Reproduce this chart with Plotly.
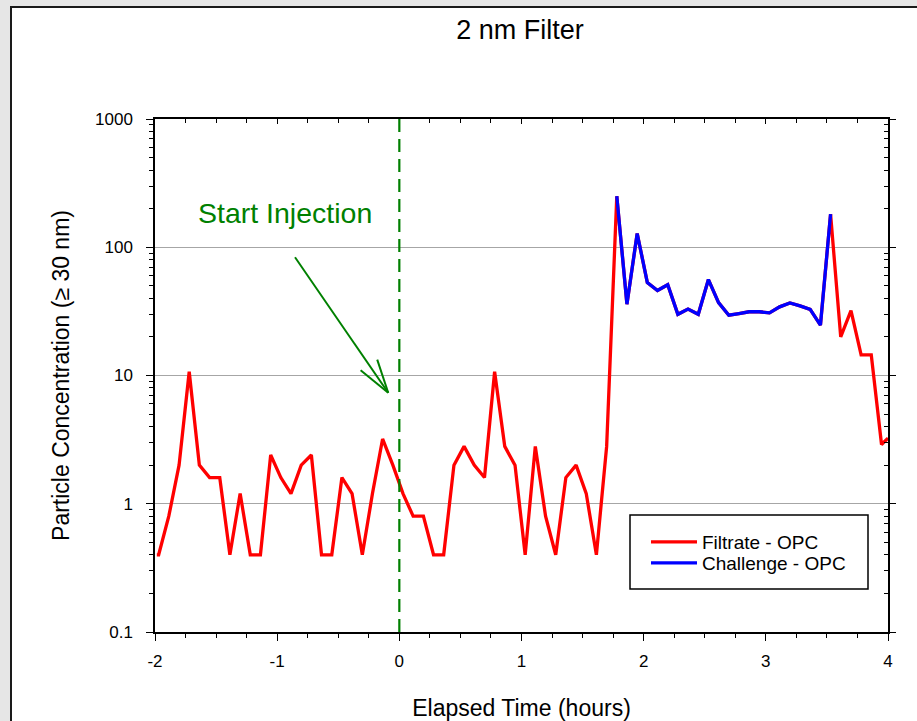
import numpy as np
import plotly.graph_objects as go

# ---- data ----
red_pre_t = [-1.985, -1.970, -1.887, -1.803, -1.720, -1.637, -1.553, -1.470, -1.387, -1.303,
             -1.220, -1.137, -1.053, -0.970, -0.887, -0.803, -0.720, -0.637, -0.553, -0.470,
             -0.387, -0.303, -0.220, -0.137, -0.053, 0.030, 0.113, 0.197, 0.280, 0.363,
             0.447, 0.530, 0.613, 0.697, 0.780, 0.863, 0.947, 1.030, 1.113, 1.197,
             1.280, 1.363, 1.447, 1.530, 1.613, 1.697]
red_pre_v = [0.4, 0.4, 0.8, 2.0, 10.7, 2.0, 1.6, 1.6, 0.4, 1.2,
             0.4, 0.4, 2.4, 1.6, 1.2, 2.0, 2.4, 0.4, 0.4, 1.6,
             1.2, 0.4, 1.2, 3.2, 2.0, 1.2, 0.8, 0.8, 0.4, 0.4,
             2.0, 2.8, 2.0, 1.6, 10.7, 2.8, 2.0, 0.4, 2.8, 0.8,
             0.4, 1.6, 2.0, 1.2, 0.4, 2.8]

blue_t = [1.780, 1.863, 1.947, 2.030, 2.113, 2.197, 2.280, 2.363, 2.447, 2.530, 2.613,
          2.697, 2.780, 2.863, 2.947, 3.030, 3.113, 3.197, 3.280, 3.363, 3.447, 3.530]
blue_v = [250, 36, 128, 53, 46, 51, 30, 33, 30, 56, 37,
          29.5, 30.4, 31.4, 31.4, 30.8, 34.3, 36.8, 34.9, 32.8, 24.7, 181]

red_post_t = [3.613, 3.697, 3.780, 3.863, 3.947, 4.0]
red_post_v = [20, 32, 14.5, 14.5, 2.9, 3.25]

red_t = red_pre_t + blue_t + red_post_t
red_v = red_pre_v + blue_v + red_post_v

x_tickvals = [-2, -1, 0, 1, 2, 3, 4]
x_ticktext = ["-2", "-1", "0", "1", "2", "3", "4"]
y_tickvals = [0.1, 1, 10, 100, 1000]
y_ticktext = ["0.1", "1", "10", "100", "1000"]
y_minor = [m * 10.0 ** e for e in range(-1, 3) for m in range(2, 10)]

FONT = "Liberation Sans, Arial, sans-serif"
GREEN = "#008000"

# ---- geometry (pixels) ----
W, H = 917, 721
ML, MR, MT, MB = 155, 29, 119, 89
PW, PH = W - ML - MR, H - MT - MB


def px(xp):
    return (xp - ML) / PW


def py(yp):
    return (H - MB - yp) / PH


fig = go.Figure()
fig.add_trace(go.Scatter(x=red_t, y=red_v, mode="lines", name="Filtrate - OPC",
                         line=dict(color="#ff0000", width=3.3), legend="legend"))
fig.add_trace(go.Scatter(x=blue_t, y=blue_v, mode="lines", name="Challenge - OPC",
                         line=dict(color="#0000ff", width=3.3), legend="legend2"))
fig.add_trace(go.Scatter(x=[None], y=[None], xaxis="x2", yaxis="y2",
                         showlegend=False, hoverinfo="skip"))

axis_common = dict(showline=True, linecolor="black", linewidth=1.5, zeroline=False,
                   tickcolor="black", tickwidth=1.2, automargin=False)

legend_common = dict(xanchor="left", yanchor="middle", bgcolor="rgba(0,0,0,0)",
                     borderwidth=0, itemwidth=46, font=dict(size=19, color="black"))

fig.update_layout(
    width=W, height=H,
    margin=dict(l=ML, r=MR, t=MT, b=MB, autoexpand=False),
    paper_bgcolor="#e6e6e6",
    plot_bgcolor="white",
    font=dict(family=FONT, color="black"),
    title=dict(text="2 nm Filter", x=520 / W, xanchor="center", y=1 - 30 / H,
               yanchor="middle", yref="container", font=dict(size=27, color="black")),
    xaxis=dict(range=[-2, 4], tickmode="array", tickvals=x_tickvals, ticktext=x_ticktext,
               ticks="outside", ticklen=7,
               minor=dict(dtick=0.25, tick0=0, ticks="outside", ticklen=4,
                          tickcolor="black", tickwidth=1.2),
               showgrid=False, tickfont=dict(size=17), ticklabelstandoff=6,
               title=dict(text="Elapsed Time (hours)", font=dict(size=23), standoff=31),
               **axis_common),
    xaxis2=dict(range=[-2, 4], overlaying="x", side="top", anchor="y", dtick=1, tick0=0,
                ticks="inside", ticklen=5,
                minor=dict(dtick=0.25, tick0=0, ticks="inside", ticklen=4,
                           tickcolor="black", tickwidth=1.2),
                showticklabels=False, showgrid=False, **axis_common),
    yaxis=dict(type="log", range=[-1, 3], tickmode="array", tickvals=y_tickvals,
               ticktext=y_ticktext, ticks="outside", ticklen=7,
               minor=dict(tickmode="array", tickvals=y_minor, ticks="outside", ticklen=4,
                          tickcolor="black", tickwidth=1.2, showgrid=False),
               showgrid=True, gridcolor="#a6a6a6", gridwidth=1,
               tickfont=dict(size=17), ticklabelstandoff=10,
               title=dict(text="Particle Concentration (≥ 30 nm)", font=dict(size=23),
                          standoff=19),
               **axis_common),
    yaxis2=dict(type="log", range=[-1, 3], overlaying="y", side="right", anchor="x",
                tickmode="array", tickvals=y_tickvals, ticks="outside", ticklen=6,
                minor=dict(tickmode="array", tickvals=y_minor, ticks="inside", ticklen=4,
                           tickcolor="black", tickwidth=1.2, showgrid=False),
                showticklabels=False, showgrid=False, **axis_common),
    legend=dict(x=px(646), y=py(542), **legend_common),
    legend2=dict(x=px(646), y=py(563), **legend_common),
    showlegend=True,
)

shapes = [
    # white panel with black frame
    dict(type="rect", xref="paper", yref="paper", x0=px(11), x1=px(940), y0=py(740), y1=py(7),
         fillcolor="white", line=dict(color="#1a1a1a", width=2), layer="below"),
    # legend box
    dict(type="rect", xref="paper", yref="paper", x0=px(630), x1=px(868), y0=py(589), y1=py(515),
         fillcolor="white", line=dict(color="black", width=1.5), layer="above"),
    # start injection dashed line
    dict(type="line", xref="x", yref="paper", x0=0, x1=0, y0=0, y1=1,
         line=dict(color=GREEN, width=2.2, dash="13px,7px"), layer="above"),
    # arrow shaft and head (data coords)
    dict(type="line", xref="x", yref="y", x0=-0.854, y0=83.6, x1=-0.091, y1=7.33,
         line=dict(color=GREEN, width=2)),
    dict(type="line", xref="x", yref="y", x0=-0.317, y0=11.0, x1=-0.091, y1=7.33,
         line=dict(color=GREEN, width=2)),
    dict(type="line", xref="x", yref="y", x0=-0.181, y0=13.3, x1=-0.091, y1=7.33,
         line=dict(color=GREEN, width=2)),
]
fig.update_layout(shapes=shapes)

fig.add_annotation(x=-0.936, y=np.log10(184), xref="x", yref="y", text="Start Injection",
                   showarrow=False, font=dict(size=28.5, color=GREEN, family=FONT))

fig.write_html("out.html")
